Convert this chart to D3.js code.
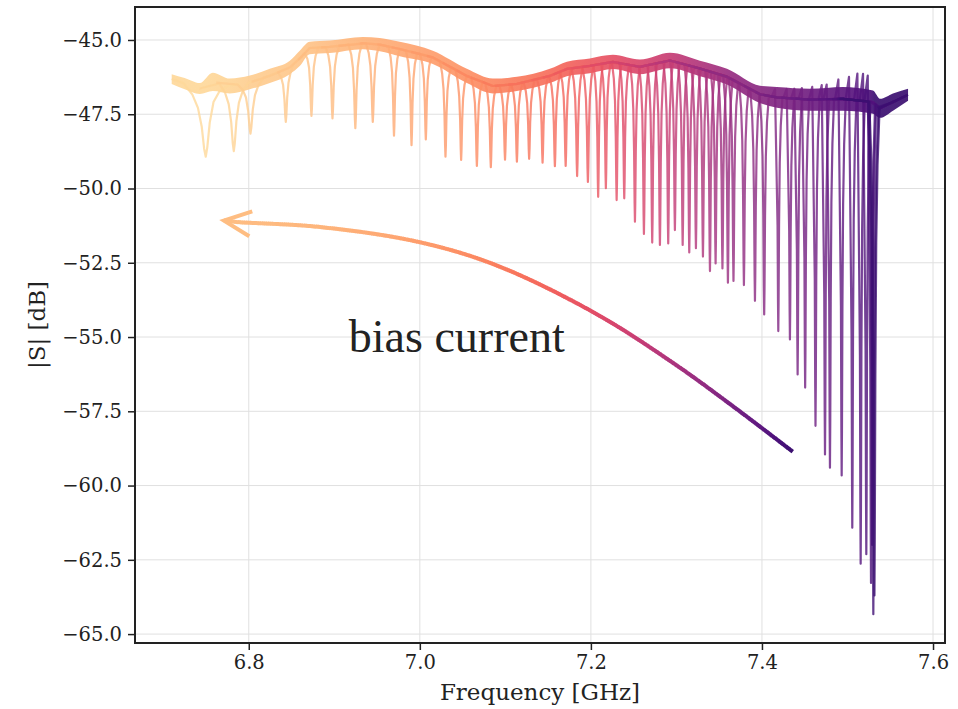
<!DOCTYPE html>
<html>
<head>
<meta charset="utf-8">
<script src="https://cdn.jsdelivr.net/npm/d3@7"></script>
<style>
  body { margin: 0; background: #fff; }
  text { font-family: "DejaVu Serif", serif; fill: #222; }
</style>
</head>
<body>
<svg id="chart" width="958" height="709"></svg>
<script>
// one trace per bias current: resonance frequency [GHz] and dip minimum [dB]
const dipFreq = [
  6.7497, 6.7825, 6.8020, 6.8433, 6.8733, 6.8979, 6.9246, 6.9450, 6.9698, 6.9903,
  7.0070, 7.0300, 7.0483, 7.0667, 7.0830, 7.0996, 7.1135, 7.1278, 7.1435, 7.1579,
  7.1705, 7.1839, 7.1965, 7.2085, 7.2175, 7.2301, 7.2390, 7.2515, 7.2620, 7.2717,
  7.2807, 7.2904, 7.2982, 7.3073, 7.3150, 7.3228, 7.3310, 7.3392, 7.3458, 7.3538,
  7.3602, 7.3667, 7.3789, 7.3918, 7.4026, 7.4191, 7.4327, 7.4417, 7.4505, 7.4626,
  7.4737, 7.4795, 7.4932, 7.5056, 7.5154, 7.5220, 7.5275, 7.5288, 7.5302, 7.5315
];
const dipDepth = [
  -48.93, -48.74, -48.15, -47.76, -47.56, -47.64, -47.97, -47.76, -48.22, -48.54,
  -48.35, -48.93, -49.04, -49.24, -49.28, -49.03, -49.10, -49.00, -49.13, -49.25,
  -49.24, -49.58, -49.78, -50.28, -49.99, -50.39, -50.33, -51.12, -51.53, -51.82,
  -51.90, -51.85, -51.40, -51.90, -52.15, -52.01, -52.29, -52.78, -52.52, -52.69,
  -53.17, -53.11, -53.25, -53.78, -54.24, -54.80, -55.08, -56.26, -56.70, -57.99,
  -58.95, -59.40, -59.66, -61.42, -62.63, -62.31, -63.28, -62.00, -64.33, -63.70
];
// half width of each dip [GHz]
const dipWidth = [
  0.026, 0.017, 0.015, 0.009, 0.008, 0.008, 0.008, 0.008, 0.0065, 0.0065,
  0.0065, 0.0065, 0.0065, 0.0065, 0.0065, 0.0065, 0.0065, 0.0065, 0.0065, 0.0065,
  0.0065, 0.0065, 0.0065, 0.0055, 0.0055, 0.0055, 0.0055, 0.0055, 0.0055, 0.0055,
  0.0055, 0.0055, 0.0055, 0.0055, 0.0055, 0.0055, 0.0055, 0.0055, 0.0055, 0.0055,
  0.0055, 0.0055, 0.0055, 0.0055, 0.0055, 0.0048, 0.0048, 0.0048, 0.0048, 0.0048,
  0.0048, 0.0048, 0.0048, 0.0048, 0.0048, 0.0048, 0.0048, 0.0048, 0.0060, 0.0060
];
// small peak just below some of the dark resonances [dB], null = none
const dipPeak = [
  null, null, null, null, null, null, null, null, null, null,
  null, null, null, null, null, null, null, null, null, null,
  null, null, null, null, null, null, null, null, null, null,
  null, null, null, null, null, null, null, null, null, null,
  null, null, null, null, null, -46.66, -46.65, -46.64, -46.62, -46.58,
  -46.52, -46.50, -46.33, -46.24, -46.13, -46.14, -46.20, null, null, null
];

// noisy baseline band (all traces overlapping)
const bandFreq = [
  6.7099, 6.7251, 6.7427, 6.7579, 6.7778, 6.8012, 6.8246, 6.8480, 6.8596, 6.8713,
  6.8947, 6.9333, 6.9532, 6.9766, 7.0152, 7.0550, 7.0854, 7.1135, 7.1520, 7.1719,
  7.1988, 7.2257, 7.2573, 7.2924, 7.3275, 7.3591, 7.3977, 7.4175, 7.4561, 7.4947,
  7.5298, 7.5380, 7.5532, 7.5708
];
const bandTop = [
  -46.15, -46.28, -46.45, -46.10, -46.30, -46.20, -45.97, -45.70, -45.36, -45.06,
  -45.02, -44.90, -44.93, -45.06, -45.36, -45.97, -46.30, -46.24, -45.97, -45.73,
  -45.62, -45.50, -45.66, -45.43, -45.70, -45.97, -46.54, -46.58, -46.64, -46.58,
  -46.70, -46.98, -46.80, -46.64
];
const bandBottom = [
  -46.48, -46.66, -46.82, -46.72, -46.80, -46.66, -46.45, -46.15, -45.88, -45.48,
  -45.44, -45.31, -45.38, -45.55, -45.81, -46.45, -46.80, -46.72, -46.45, -46.22,
  -46.12, -45.98, -46.15, -45.95, -46.22, -46.50, -47.12, -47.28, -47.38, -47.38,
  -47.48, -47.62, -47.38, -47.05
];

// dip profile: offset in half widths, fraction of the full dip
const shapeOffset = [-1, -0.6, -0.35, -0.18, -0.07, 0, 0.07, 0.18, 0.35, 0.6, 1];
const shapeFrac = [0, 0.12, 0.28, 0.55, 0.88, 1, 0.88, 0.55, 0.28, 0.12, 0];
const traceSpan = 0.04; // each sweep covers +-40 MHz around its dip

const xTicks = [6.8, 7.0, 7.2, 7.4, 7.6];
const yTicks = [-45, -47.5, -50, -52.5, -55, -57.5, -60, -62.5, -65];

// annotation arrow, from tail to head
const arrowFreq = [7.436, 7.367, 7.297, 7.205, 7.089, 6.997, 6.881, 6.787, 6.771];
const arrowDb = [-58.86, -57.35, -55.89, -54.20, -52.58, -51.79, -51.29, -51.13, -51.08];

const svg = d3.select('#chart');
const margin = { left: 135, right: 13, top: 7, bottom: 66 };
const W = 958, H = 709;

const x = d3.scaleLinear().domain([6.667, 7.614]).range([margin.left, W - margin.right]);
const y = d3.scaleLinear().domain([-65.30, -43.89]).range([H - margin.bottom, margin.top]);

const n = dipFreq.length;
const traceColor = i => d3.interpolateMagma(0.92 - 0.72 * i / (n - 1));

// grid
svg.append('g').selectAll('line').data(xTicks).join('line')
  .attr('x1', d => x(d)).attr('x2', d => x(d))
  .attr('y1', margin.top).attr('y2', H - margin.bottom)
  .attr('stroke', '#e0e0e0').attr('stroke-width', 1);
svg.append('g').selectAll('line').data(yTicks).join('line')
  .attr('y1', d => y(d)).attr('y2', d => y(d))
  .attr('x1', margin.left).attr('x2', W - margin.right)
  .attr('stroke', '#e0e0e0').attr('stroke-width', 1);

// colour gradient for the band, following the trace colours
const defs = svg.append('defs');
const grad = defs.append('linearGradient').attr('id', 'bandGrad')
  .attr('gradientUnits', 'userSpaceOnUse')
  .attr('x1', x(dipFreq[0])).attr('x2', x(dipFreq[n - 1]))
  .attr('y1', 0).attr('y2', 0);
grad.selectAll('stop').data(dipFreq).join('stop')
  .attr('offset', d => (d - dipFreq[0]) / (dipFreq[n - 1] - dipFreq[0]))
  .attr('stop-color', (d, i) => traceColor(i));

const bandPts = bandFreq.map((f, k) => ({ f, top: bandTop[k], bot: bandBottom[k] }));
svg.append('path')
  .datum(bandPts)
  .attr('d', d3.area().x(d => x(d.f)).y0(d => y(d.bot)).y1(d => y(d.top)).curve(d3.curveMonotoneX))
  .attr('fill', 'url(#bandGrad)')
  .attr('opacity', 0.92);

// centre of the band at frequency f
function bandCenter(f) {
  let k = d3.bisectLeft(bandFreq, f);
  k = Math.max(1, Math.min(bandFreq.length - 1, k));
  const f0 = bandFreq[k - 1], f1 = bandFreq[k];
  const c0 = (bandTop[k - 1] + bandBottom[k - 1]) / 2;
  const c1 = (bandTop[k] + bandBottom[k]) / 2;
  const u = Math.max(0, Math.min(1, (f - f0) / (f1 - f0)));
  return c0 + u * (c1 - c0);
}

function tracePoints(i) {
  const fd = dipFreq[i], w = dipWidth[i];
  const lo = Math.max(bandFreq[0], fd - traceSpan);
  const hi = Math.min(bandFreq[bandFreq.length - 1], fd + traceSpan);
  const base = bandCenter(fd);
  const pts = [];
  bandFreq.forEach((f, k) => {
    if (f > lo && f < hi && Math.abs(f - fd) > 1.7 * w) pts.push([f, (bandTop[k] + bandBottom[k]) / 2]);
  });
  pts.push([lo, bandCenter(lo)], [hi, bandCenter(hi)]);
  const hasPeak = dipPeak[i] != null;
  shapeOffset.forEach((o, k) => {
    if (hasPeak && o < -0.3) return;
    const f = fd + o * w;
    pts.push([f, bandCenter(f) + shapeFrac[k] * (dipDepth[i] - base)]);
  });
  if (hasPeak) {
    pts.push([fd - 1.6 * w, bandCenter(fd - 1.6 * w)], [fd - 0.8 * w, dipPeak[i]]);
  }
  return pts.sort((a, b) => a[0] - b[0]);
}

const line = d3.line().x(d => x(d[0])).y(d => y(d[1]));
svg.append('g').selectAll('path').data(dipFreq).join('path')
  .attr('d', (d, i) => line(tracePoints(i)))
  .attr('fill', 'none')
  .attr('stroke', (d, i) => traceColor(i))
  .attr('stroke-width', 2.2)
  .attr('stroke-linejoin', 'round')
  .attr('opacity', 0.8);

// frame
svg.append('rect')
  .attr('x', margin.left).attr('y', margin.top)
  .attr('width', W - margin.left - margin.right)
  .attr('height', H - margin.top - margin.bottom)
  .attr('fill', 'none').attr('stroke', '#222').attr('stroke-width', 2);

// axes
const fmtY = d => d3.format('.1f')(d).replace('-', '\u2212');
const xAxis = svg.append('g')
  .attr('transform', `translate(0,${H - margin.bottom})`)
  .call(d3.axisBottom(x).tickValues(xTicks).tickFormat(d3.format('.1f')).tickSize(7).tickPadding(5));
const yAxis = svg.append('g')
  .attr('transform', `translate(${margin.left},0)`)
  .call(d3.axisLeft(y).tickValues(yTicks).tickFormat(fmtY).tickSize(7).tickPadding(6));
[xAxis, yAxis].forEach(a => {
  a.select('.domain').remove();
  a.selectAll('.tick line').attr('stroke', '#222').attr('stroke-width', 1.5);
  a.selectAll('.tick text').attr('font-family', 'DejaVu Serif').attr('font-size', 19.5).attr('fill', '#222');
});

svg.append('text')
  .attr('x', 540)
  .attr('y', 700)
  .attr('text-anchor', 'middle')
  .attr('font-size', 23)
  .text('Frequency [GHz]');

svg.append('text')
  .attr('transform', `translate(45,325) rotate(-90)`)
  .attr('text-anchor', 'middle')
  .attr('font-size', 23)
  .text('|S| [dB]');

// bias current arrow with magma gradient along its length
const arrowPath = svg.append('path')
  .datum(arrowFreq.map((f, k) => [f, arrowDb[k]]))
  .attr('d', d3.line().x(d => x(d[0])).y(d => y(d[1])).curve(d3.curveCatmullRom))
  .attr('fill', 'none').attr('stroke', 'none');
const node = arrowPath.node();
const L = node.getTotalLength();
const step = 2;
const segs = [];
for (let s = 0; s < L; s += step) {
  const p0 = node.getPointAtLength(s), p1 = node.getPointAtLength(Math.min(L, s + step + 0.6));
  const u = s / L;
  segs.push({ p0, p1, c: d3.interpolateMagma(0.2 + 0.66 * (1 - (1 - u) * (1 - u))) });
}
svg.append('g').selectAll('line').data(segs).join('line')
  .attr('x1', d => d.p0.x).attr('y1', d => d.p0.y)
  .attr('x2', d => d.p1.x).attr('y2', d => d.p1.y)
  .attr('stroke', d => d.c).attr('stroke-width', 4);

const tip = node.getPointAtLength(L), back = node.getPointAtLength(L - 6);
const ang = Math.atan2(tip.y - back.y, tip.x - back.x);
const headLen = 27, headHalf = 12.5;
const bx = tip.x - headLen * Math.cos(ang), by = tip.y - headLen * Math.sin(ang);
svg.append('path')
  .attr('d', `M${bx - headHalf * Math.sin(ang)},${by + headHalf * Math.cos(ang)} L${tip.x},${tip.y} L${bx + headHalf * Math.sin(ang)},${by - headHalf * Math.cos(ang)}`)
  .attr('fill', 'none').attr('stroke', d3.interpolateMagma(0.86)).attr('stroke-width', 4);

svg.append('text')
  .attr('x', x(6.917)).attr('y', y(-55.505))
  .attr('font-size', 46)
  .style('font-family', '"Liberation Serif", serif')
  .text('bias current');
</script>
</body>
</html>
